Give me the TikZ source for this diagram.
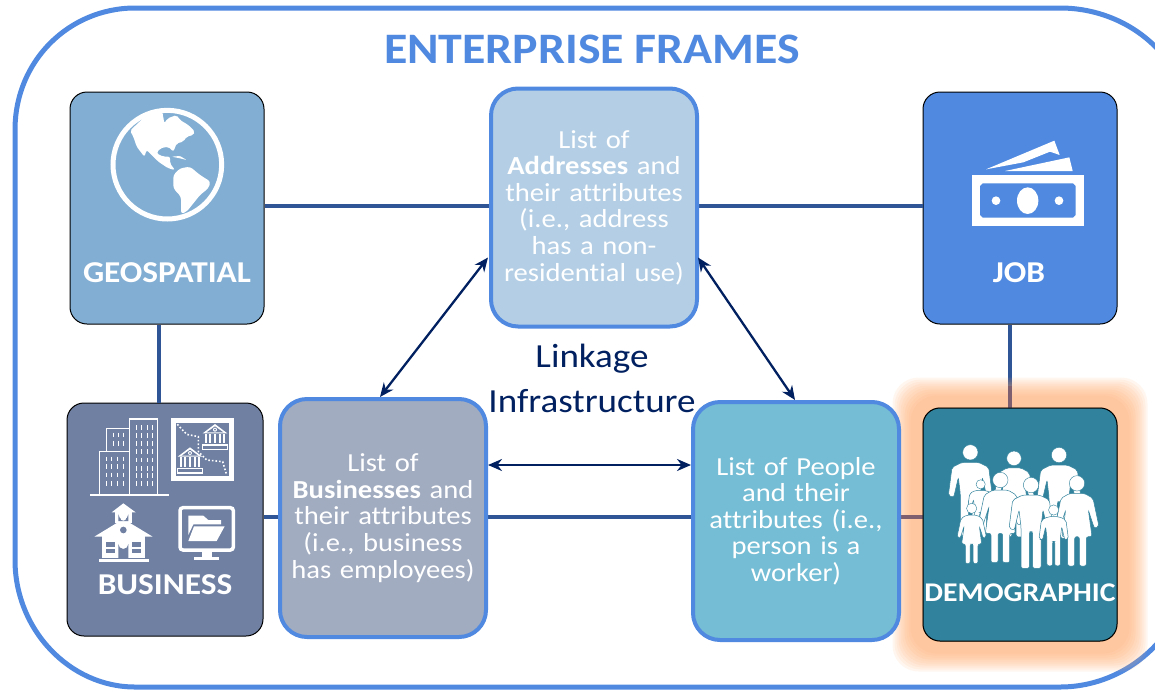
\documentclass[tikz,border=0pt]{standalone}
\usepackage{fontspec}
\setmainfont[FakeStretch=1.1, Ligatures=CommonOff]{Carlito}
\usetikzlibrary{arrows.meta}
\definecolor{frameblue}{HTML}{5089E0}
\definecolor{geocol}{HTML}{82AED3}
\definecolor{jobcol}{HTML}{4F8AE0}
\definecolor{buscol}{HTML}{6F80A3}
\definecolor{demcol}{HTML}{31829C}
\definecolor{addrcol}{HTML}{B4CFE5}
\definecolor{bliscol}{HTML}{A1ACC1}
\definecolor{peopcol}{HTML}{74BDD4}
\definecolor{linkcol}{HTML}{2F5597}
\definecolor{navycol}{HTML}{002060}
\definecolor{glowcol}{HTML}{FFAA6D}
\definecolor{glowlink}{HTML}{7D5F70}
\tikzset{
  frame/.style={draw=black, line width=1pt, rounded corners=17pt, minimum width=194pt, minimum height=232pt, inner sep=0pt},
  listbox/.style={draw=frameblue, line width=4pt, rounded corners=27pt, minimum width=206pt, minimum height=238pt, inner sep=0pt, text=white, text width=196pt, align=center, font=\fontsize{26}{26.6}\selectfont},
  caption/.style={text=white, inner sep=0pt, font=\fontsize{30.3}{31}\selectfont\bfseries},
  link/.style={draw=linkcol, line width=4.5pt},
  twoway/.style={<->, >={Stealth[length=14pt,width=12pt]}, draw=navycol, line width=2.3pt},
  outline/.style={draw=white, line width=1.3pt}
}
% small bank for the map icon
\newcommand{\bankicon}[2]{
  \begin{scope}[shift={(#1,#2)}]
    \fill[white] (0,-43) -- (37,-15) -- (-37,-15) -- cycle;
    \fill[buscol] (0,-36) -- (25,-18) -- (-25,-18) -- cycle;
    \fill[white] (0,-26) circle (6);
    \fill[buscol] (0,-26) circle (3);
    \foreach \cx in {-28,-14,0,14,28} \fill[white] (\cx-3,-13) rectangle (\cx+3,15);
    \draw[white, line width=1.5pt] (-37,20) rectangle (37,34);
  \end{scope}
}
% one figure of the family, head at #1,#2
\newcommand{\manicon}[3]{
  \begin{scope}[shift={(#1,#2)}, scale=#3]
    \filldraw[fill=white, draw=demcol, line width=.4pt] (0,0) circle (23);
    \filldraw[fill=white, draw=demcol, line width=.5pt, rounded corners=2pt] (-25,30) -- (-55,45) -- (-66,130) -- (-50,135) -- (-36,75) -- (-30,125) -- (-30,250) -- (-5,250) -- (-5,140) -- (5,140) -- (5,250) -- (30,250) -- (30,125) -- (36,75) -- (50,135) -- (66,130) -- (55,45) -- (25,30) -- cycle;
  \end{scope}
}
\newcommand{\ladyicon}[3]{
  \begin{scope}[shift={(#1,#2)}, scale=#3]
    \filldraw[fill=white, draw=demcol, line width=.4pt] (0,0) circle (23);
    \filldraw[fill=white, draw=demcol, line width=.5pt, rounded corners=2pt] (-22,30) -- (-48,45) -- (-66,130) -- (-52,135) -- (-34,80) -- (-45,160) -- (-28,160) -- (-28,248) -- (-7,248) -- (-7,160) -- (7,160) -- (7,248) -- (28,248) -- (28,160) -- (45,160) -- (34,80) -- (52,135) -- (66,130) -- (48,45) -- (22,30) -- cycle;
  \end{scope}
}
\begin{document}
\begin{tikzpicture}[x=1pt, y=-1pt]
  \useasboundingbox (0,0) rectangle (1155,691);

  % outer frame, runs off the page on the right
  \draw[draw=frameblue, line width=5pt] (15,130) .. controls (15,60) and (70,8) .. (135,8) -- (1060,8) .. controls (1130,8) and (1190,60) .. (1190,130) -- (1190,560) .. controls (1190,630) and (1130,687) .. (1060,687) -- (135,687) .. controls (70,687) and (15,630) .. (15,560) -- cycle;

  \node[text=frameblue, inner sep=0pt, font=\fontsize{43.5}{46}\selectfont\bfseries] (title) at (592,49) {ENTERPRISE FRAMES};

  % Define nodes
  \node[frame, fill=geocol] (geo) at (167,208) {};
  \node[frame, fill=jobcol] (job) at (1020,208) {};
  \node[frame, fill=buscol, minimum width=196pt, minimum height=233pt] (bus) at (165,519.5) {};
  \node[frame, fill=demcol, minimum height=233pt] (dem) at (1020,524.5) {};

  % Lines behind the lists
  \draw[link] ([yshift=2pt]geo.east) -- ([yshift=2pt]job.west);
  \draw[link] ([yshift=2.5pt]bus.east) -- ([yshift=7.5pt]dem.west);
  \draw[link] ([xshift=-8pt]geo.south) -- ([xshift=-6pt]bus.north);
  \draw[link] ([xshift=-10pt]job.south) -- ([xshift=-10pt]dem.north);

  % Glow of the selected frame
  \foreach \grow in {30,28,...,12}
    \fill[glowcol, opacity=.1, rounded corners=26pt] ([xshift=-\grow pt, yshift=-\grow pt]dem.south west) rectangle ([xshift=\grow pt, yshift=\grow pt]dem.north east);
  \draw[link, draw=glowlink] ([xshift=-10pt]dem.north) -- ([xshift=-10pt, yshift=22pt]dem.north);
  \draw[link, draw=glowlink] ([yshift=7.5pt]dem.west) -- ([xshift=-24pt, yshift=7.5pt]dem.west);
  \node[frame, fill=demcol, minimum height=233pt] (dem) at (1020,524.5) {};

  \node[listbox, fill=addrcol] (addr) at (594,207.5) {List of\\\textbf{Addresses} and\\their attributes\\(i.e., address\\has a non-\\residential use)};
  \node[listbox, fill=bliscol] (blist) at (383,518) {List of\\\textbf{Businesses} and\\their attributes\\(i.e., business\\has employees)};
  \node[listbox, fill=peopcol] (people) at (796,521) {List of People\\and their\\attributes (i.e.,\\person is a\\worker)};

  \node[text=navycol, inner sep=0pt, align=center, font=\fontsize{33.7}{45}\selectfont] (infra) at (592,378) {Linkage\\Infrastructure};

  % Draw arrows between the lists
  \draw[twoway] ([xshift=-1pt, yshift=-50pt]addr.west) -- ([xshift=-3pt]blist.north);
  \draw[twoway] ([xshift=-1pt, yshift=-50pt]addr.east) -- ([xshift=-1pt]people.north);
  \draw[twoway] ([yshift=53pt]blist.east) -- ([yshift=56pt]people.west);

  % Captions
  \node[caption] (geocap) at (167,273) {GEOSPATIAL};
  \node[caption] (jobcap) at (1019,273) {JOB};
  \node[caption] (buscap) at (165,585) {BUSINESS};
  \node[caption, font=\fontsize{27}{30}\selectfont\bfseries] (demcap) at (1020,593) {DEMOGRAPHIC};

  % Globe
  \begin{scope}[shift={(105,100)}, scale=1/3]
    \draw[white, line width=5pt] (187,194) circle (163);
    \fill[white, rounded corners=2pt] (75,92) -- (125,45) -- (172,35) -- (178,70) -- (188,55) -- (215,45) -- (225,60) -- (250,75) -- (270,95) -- (265,105) -- (245,110) -- (235,125) -- (215,130) -- (205,155) -- (190,140) -- (165,145) -- (155,160) -- (175,170) -- (195,170) -- (195,190) -- (210,210) -- (190,205) -- (160,185) -- (130,155) -- (125,150) -- (118,170) -- (95,140) -- (85,110) -- cycle;
    \fill[white, rounded corners=1pt] (200,170) -- (225,168) -- (245,180) -- (225,175) -- cycle;
    \fill[white, rounded corners=3pt] (205,225) -- (225,205) -- (255,200) -- (285,225) -- (317,245) -- (310,265) -- (285,285) -- (265,310) -- (245,335) -- (228,342) -- (228,290) -- (205,265) -- cycle;
  \end{scope}

  % Money
  \begin{scope}[shift={(910,85)}, scale=1/3]
    \fill[white] (228,253) -- (433,167) -- (449,210) -- (420,200) -- (340,232) -- cycle;
    \fill[white] (285,258) -- (478,217) -- (488,258) -- cycle;
    \fill[white] (185,270) rectangle (521,424);
    \fill[jobcol] (218,295) -- (489,295) -- (497,303) -- (497,390) -- (489,398) -- (218,398) -- (210,390) -- (210,303) -- cycle;
    \fill[white] (353,347) ellipse (32 and 40);
    \fill[white] (258,347) circle (13);
    \fill[white] (447,347) circle (13);
  \end{scope}

  % Business icons
  \begin{scope}[shift={(60,395)}, scale=1/3]
    % towers
    \draw[outline] (90,300) -- (327,300);
    \draw[outline] (209,300) -- (209,72) -- (293,72) -- (293,300);
    \draw[outline] (209,170) -- (119,170) -- (119,300);
    \draw[outline] (209,100) -- (140,100) -- (140,170);
    \foreach \wx in {229,245,261,277} \foreach \wy in {98,122,146,170,195,220,242,265}
      \draw[white, line width=.9pt] (\wx,\wy-7) -- (\wx,\wy+7);
    \foreach \wx in {139,155,172,190} \foreach \wy in {192,215,240,265}
      \draw[white, line width=.9pt] (\wx,\wy-7) -- (\wx,\wy+7);
    \foreach \wx in {160,175,190} \foreach \wy in {120,145}
      \draw[white, line width=.9pt] (\wx,\wy-7) -- (\wx,\wy+7);
    % map
    \draw[white, line width=4.5pt] (341,77) rectangle (515,251);
    \draw[white, line width=1.6pt, dotted] (352,88) -- (380,118) -- (415,125) -- (415,170) -- (440,195) -- (488,200) -- (500,240);
    \bankicon{465}{130}
    \bankicon{390}{200}
    % school
    \fill[white] (103,425) -- (190,372) -- (278,425) -- cycle;
    \fill[white] (125,420) rectangle (255,490);
    \fill[white] (155,352) -- (190,325) -- (227,352) -- cycle;
    \fill[white] (165,350) rectangle (215,385);
    \fill[buscol] (175,378) -- (175,358) arc (180:0:15) -- (205,378) -- cycle;
    \fill[white] (190,368) circle (9);
    \fill[white] (190,405) circle (15);
    \fill[buscol] (190,405) circle (10);
    \fill[buscol] (175,490) -- (175,447) arc (180:0:15) -- (205,490) -- cycle;
    \fill[buscol] (137,442) rectangle (165,475);
    \fill[buscol] (215,442) rectangle (243,475);
    \fill[white] (137,457) rectangle (165,462);
    \fill[white] (215,457) rectangle (243,462);
    \fill[white] (117,492) rectangle (267,500);
    % monitor and folder
    \draw[white, line width=3.5pt, rounded corners=3pt] (360,338) rectangle (520,465);
    \fill[white] (425,465) rectangle (455,485);
    \fill[white] (402,485) rectangle (477,496);
    \fill[white] (385,362) -- (430,362) -- (445,375) -- (483,375) -- (483,388) -- (400,388) -- (385,420) -- cycle;
    \fill[white] (402,394) -- (494,394) -- (470,438) -- (385,438) -- cycle;
  \end{scope}

  % Family
  \begin{scope}[shift={(890,370)}, scale=1/3]
    \manicon{241}{247}{1}
    \ladyicon{372}{265}{.95}
    \manicon{507}{255}{1}
    \manicon{272}{343}{.6}
    \ladyicon{331}{330}{1}
    \ladyicon{561}{340}{1}
    \manicon{423}{345}{1}
    \ladyicon{245}{415}{.67}
    \manicon{491}{420}{.67}
  \end{scope}
\end{tikzpicture}
\end{document}
